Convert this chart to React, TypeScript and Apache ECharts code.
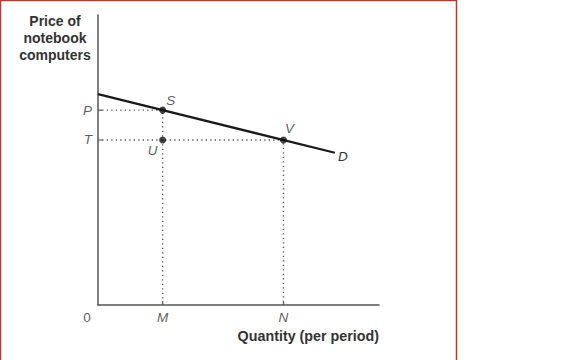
import React, { useEffect, useRef } from "react";
import * as echarts from "echarts";

// Data (abstract units, x: 0..100, y: 0..100)
const xMax = 100;
const yMax = 100;
const M = 23;
const N = 66;
const P = 67.2;
const T = 56.9;
const demandLine = [
  [0, 72.7],
  [84.3, 52.5],
];
const pointS = [M, P];
const pointU = [M, T];
const pointV = [N, T];
const xTickLabels = ["0", "M", "N"];
const xTickValues = [0, M, N];
const yTickLabels = ["P", "T"];
const yTickValues = [P, T];
const yTitle = "Price of\nnotebook\ncomputers";
const xTitle = "Quantity (per period)";

const FONT = "Liberation Sans, Arial, Helvetica, sans-serif";
const AXIS_COLOR = "#555";
const TEXT_COLOR = "#333";
const TICK_X = 1.5; // tick length in x units
const TICK_Y = 1.4; // tick length in y units

export default function App() {
  const ref = useRef<HTMLDivElement>(null);

  useEffect(() => {
    if (!ref.current) return;
    const chart = echarts.init(ref.current, null, { renderer: "svg" });

    const dotted = {
      type: [1.3, 3.2] as any,
      color: "#555",
      width: 1.4,
    };
    const tickStyle = { color: AXIS_COLOR, width: 1.2 };

    const tickSeries = [
      ...yTickValues.map((v) => ({
        type: "line",
        data: [
          [0, v],
          [TICK_X, v],
        ],
        symbol: "none",
        lineStyle: tickStyle,
        silent: true,
        z: 2,
      })),
      ...xTickValues.slice(1).map((v) => ({
        type: "line",
        data: [
          [v, 0],
          [v, TICK_Y],
        ],
        symbol: "none",
        lineStyle: tickStyle,
        silent: true,
        z: 2,
      })),
    ];

    const option: any = {
      animation: false,
      backgroundColor: "#fff",
      grid: { left: 98, top: 15, right: 188, bottom: 55 },
      xAxis: {
        type: "value",
        min: 0,
        max: xMax,
        axisLine: { show: true, lineStyle: { color: AXIS_COLOR, width: 1.5 } },
        axisTick: { show: false },
        axisLabel: { show: false },
        splitLine: { show: false },
      },
      yAxis: {
        type: "value",
        min: 0,
        max: yMax,
        axisLine: { show: true, lineStyle: { color: AXIS_COLOR, width: 1.5 } },
        axisTick: { show: false },
        axisLabel: { show: false },
        splitLine: { show: false },
      },
      graphic: [
        {
          type: "rect",
          shape: { x: 0.5, y: 0.5, width: 456, height: 380 },
          style: { fill: "none", stroke: "#c8322b", lineWidth: 1.5 },
          silent: true,
        },
        {
          type: "text",
          x: 55,
          y: 12,
          style: {
            text: yTitle,
            fontFamily: FONT,
            fontWeight: "bold",
            fontSize: 14,
            lineHeight: 17,
            fill: TEXT_COLOR,
            textAlign: "center",
            textVerticalAlign: "top",
          },
        },
        {
          type: "text",
          x: 379,
          y: 336,
          style: {
            text: xTitle,
            fontFamily: FONT,
            fontWeight: "bold",
            fontSize: 14.3,
            fill: TEXT_COLOR,
            textAlign: "right",
            textVerticalAlign: "middle",
          },
        },
      ],
      series: [
        // dotted guide lines
        {
          type: "line",
          data: [[TICK_X, P], pointS, [M, TICK_Y]],
          symbol: "none",
          lineStyle: dotted,
          silent: true,
          z: 1,
        },
        {
          type: "line",
          data: [[TICK_X, T], pointV, [N, TICK_Y]],
          symbol: "none",
          lineStyle: dotted,
          silent: true,
          z: 1,
        },
        ...tickSeries,
        // demand curve
        {
          type: "line",
          data: demandLine,
          symbol: "none",
          lineStyle: { color: "#1a1a1a", width: 2.2 },
          z: 3,
          endLabel: {
            show: true,
            formatter: "D",
            fontFamily: FONT,
            fontStyle: "italic",
            fontSize: 13.5,
            color: TEXT_COLOR,
            offset: [0, 4],
            distance: 3,
          },
        },
        // points
        {
          type: "scatter",
          symbolSize: 7,
          itemStyle: { color: "#111" },
          z: 4,
          label: {
            show: true,
            fontFamily: FONT,
            fontStyle: "italic",
            fontSize: 13.5,
            color: TEXT_COLOR,
            formatter: (p: any) => p.data.name,
          },
          data: [
            { value: pointS, name: "S", label: { position: "inside", offset: [8, -10] } },
            { value: pointU, name: "U", label: { position: "inside", offset: [-10, 11] } },
            { value: pointV, name: "V", label: { position: "inside", offset: [6, -11] } },
          ],
        },
        // x tick labels
        {
          type: "scatter",
          symbolSize: 0,
          silent: true,
          label: {
            show: true,
            position: "bottom",
            distance: 5,
            fontFamily: FONT,
            fontStyle: "italic",
            fontSize: 13.5,
            color: TEXT_COLOR,
            formatter: (p: any) => p.data.name,
          },
          data: xTickLabels.map((name, i) => ({
            value: [xTickValues[i], 0],
            name,
            label: i === 0 ? { fontStyle: "normal", offset: [-11, 0] } : {},
          })),
        },
        // y tick labels
        {
          type: "scatter",
          symbolSize: 0,
          silent: true,
          label: {
            show: true,
            position: "left",
            distance: 6,
            fontFamily: FONT,
            fontStyle: "italic",
            fontSize: 13.5,
            color: TEXT_COLOR,
            formatter: (p: any) => p.data.name,
          },
          data: yTickLabels.map((name, i) => ({
            value: [0, yTickValues[i]],
            name,
          })),
        },
      ],
    };

    chart.setOption(option);
    return () => chart.dispose();
  }, []);

  return (
    <div
      ref={ref}
      style={{ position: "fixed", left: 0, top: 0, width: 567, height: 360 }}
    />
  );
}
